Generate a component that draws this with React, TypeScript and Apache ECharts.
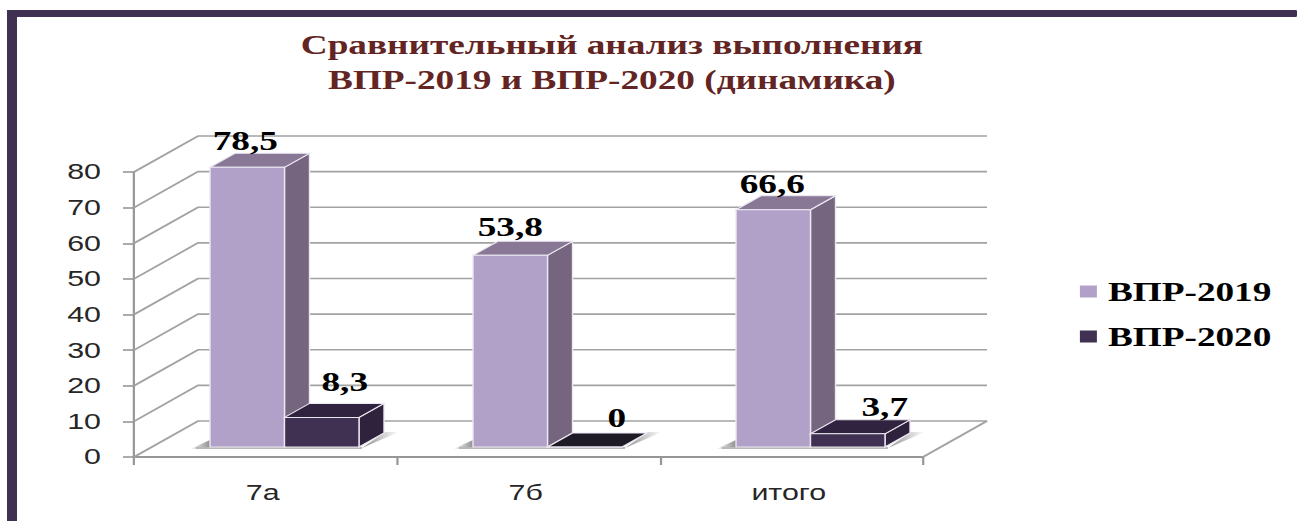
import React, { useEffect, useRef } from "react";
import * as echarts from "echarts";

const titleText = "Сравнительный анализ выполнения\nВПР-2019 и ВПР-2020 (динамика)";
const categories = ["7а", "7б", "итого"];
const seriesNames = ["ВПР-2019", "ВПР-2020"];
const values2019 = [78.5, 53.8, 66.6];
const values2020 = [8.3, 0, 3.7];
const yTicks = [0, 10, 20, 30, 40, 50, 60, 70, 80];

// The source picture is stretched sideways, so the chart is laid out narrow and widened as a whole.
const K = 1.38;
const sx = (v: number) => v / K;
const DEPTH_X = sx(25);
const DEPTH_Y = 14;
const WALL_X = sx(64);
const WALL_Y = 36;
const FLOOR_LIFT = 10;
const BAR_W = sx(74.5);
const GROUP_SHIFT = sx(19);
const GRID_COLOR = "#a2a2a2";
const EDGE = "#ece8f2";
const SERIF = '"Liberation Serif", serif';
const SANS = '"Liberation Sans", sans-serif';

const palettes = [
  { front: "#b1a0c7", side: "#75657f", top: "#897796" },
  { front: "#403152", side: "#2f223d", top: "#30233f" },
];
const labelShifts = [
  [[-2, -26], [0, -28], [-1, -26]],
  [[23, -36], [32, -29], [37, -27]],
];

function face(points: number[][], fill: string, z2 = 0) {
  return {
    type: "polygon",
    z2,
    shape: { points },
    style: { fill, stroke: EDGE, lineWidth: 1 },
  };
}

function barRenderer(seriesIndex: number) {
  return (_params: any, api: any) => {
    const cat = api.value(0);
    const v = api.value(1);
    const [cx, rawTop] = api.coord([cat, v]);
    const [, rawBase] = api.coord([cat, 0]);
    const top = rawTop - FLOOR_LIFT;
    const base = rawBase - FLOOR_LIFT;
    const left = cx + GROUP_SHIFT - (seriesIndex === 0 ? BAR_W : 0);
    const right = left + BAR_W;
    const pal = palettes[seriesIndex];
    const children: any[] = [];
    if (seriesIndex === 0) {
      const l0 = cx + GROUP_SHIFT - BAR_W;
      const r0 = cx + GROUP_SHIFT + BAR_W;
      children.push({
        type: "polygon",
        shape: {
          points: [
            [l0 - sx(20), base + 2],
            [l0, base - 7],
            [l0, base + 2],
          ],
        },
        style: {
          fill: {
            type: "linear", x: 0, y: 0, x2: 1, y2: 0,
            colorStops: [{ offset: 0, color: "#ffffff" }, { offset: 1, color: "#8f8f8f" }],
          },
        },
      });
      children.push({
        type: "rect",
        shape: { x: l0 - sx(14), y: base, width: r0 - l0 + sx(17), height: 2 },
        style: { fill: "#b8b8b8" },
      });
      children.push({
        type: "polygon",
        shape: {
          points: [
            [r0 + sx(3), base + 1],
            [r0 + sx(26), base - 15],
            [r0 + sx(40), base - 15],
          ],
        },
        style: {
          fill: {
            type: "linear", x: 0, y: 0, x2: 1, y2: 0,
            colorStops: [{ offset: 0, color: "#8f8f8f" }, { offset: 1, color: "#ffffff" }],
          },
        },
      });
    }
    children.push(
      face([[right, base], [right + DEPTH_X, base - DEPTH_Y], [right + DEPTH_X, top - DEPTH_Y], [right, top]], pal.side),
      face([[left, top], [right, top], [right + DEPTH_X, top - DEPTH_Y], [left + DEPTH_X, top - DEPTH_Y]], v === 0 ? "#1e1a26" : pal.top),
      face([[left, base], [right, base], [right, top], [left, top]], pal.front),
    );
    const [dx, dy] = labelShifts[seriesIndex][cat];
    children.push({
      type: "text",
      z2: 10,
      style: {
        text: String(v).replace(".", ","),
        x: (left + right) / 2 + sx(dx),
        y: top + dy,
        align: "center",
        verticalAlign: "middle",
        font: `bold 27px ${SERIF}`,
        fill: "#000000",
      },
    });
    return { type: "group", children };
  };
}

function wallRenderer(params: any, api: any) {
  const v = api.value(1);
  const [, y] = api.coord([0, v]);
  const x0 = params.coordSys.x;
  const x1 = x0 + params.coordSys.width;
  const lineStyle = { stroke: GRID_COLOR, lineWidth: 1.6, fill: "none" };
  const children: any[] = [
    {
      type: "polyline",
      shape: { points: [[x0, y], [x0 + WALL_X, y - WALL_Y], [x1 + WALL_X, y - WALL_Y]] },
      style: lineStyle,
    },
  ];
  if (v === 0) {
    children.push({
      type: "line",
      shape: { x1, y1: y, x2: x1 + WALL_X, y2: y - WALL_Y },
      style: lineStyle,
    });
  }
  return { type: "group", children };
}

export default function App() {
  const ref = useRef<HTMLDivElement>(null);
  useEffect(() => {
    const chart = echarts.init(ref.current!, null, { renderer: "svg" });
    chart.setOption({
      animation: false,
      backgroundColor: "#ffffff",
      title: {
        text: titleText,
        left: sx(605),
        top: 22,
        textAlign: "center",
        textStyle: {
          fontFamily: SERIF,
          fontWeight: "bold",
          fontSize: 27,
          lineHeight: 35,
          color: "#632523",
        },
      },
      graphic: [
        { type: "rect", silent: true, shape: { x: sx(7), y: 10, width: sx(1290), height: 7, r: 1 }, style: { fill: "#403152" } },
        { type: "rect", silent: true, shape: { x: sx(7), y: 10, width: sx(10), height: 511 }, style: { fill: "#403152" } },
      ],
      legend: {
        data: seriesNames,
        orient: "vertical",
        left: sx(1073),
        top: 273,
        itemGap: 18,
        itemWidth: sx(17),
        itemHeight: 12,
        icon: "rect",
        selectedMode: false,
        textStyle: { fontFamily: SERIF, fontWeight: "bold", fontSize: 27, color: "#000000", padding: [0, 0, 0, 3] },
      },
      grid: { left: sx(134), top: 172, width: sx(789), height: 285, containLabel: false },
      xAxis: {
        type: "category",
        data: categories,
        axisLine: { lineStyle: { color: "#969696", width: 2 } },
        axisTick: { show: true, length: 8, lineStyle: { color: "#969696", width: 1.6 } },
        axisLabel: { fontFamily: SANS, fontSize: 22, color: "#262626", margin: 25, padding: [0, 4, 0, 0] },
        splitLine: { show: false },
      },
      yAxis: {
        type: "value",
        min: 0,
        max: 80,
        interval: 10,
        axisLine: { show: true, lineStyle: { color: "#969696", width: 1.6 } },
        axisTick: { show: true, length: sx(11), lineStyle: { color: "#969696", width: 1.6 } },
        axisLabel: { fontFamily: SANS, fontSize: 22, color: "#262626", margin: sx(33), padding: [3, 0, 0, 0] },
        splitLine: { show: false },
      },
      series: [
        {
          type: "custom",
          name: "wall",
          z: 1,
          silent: true,
          clip: false,
          encode: { x: 0, y: 1 },
          data: yTicks.map((t) => [0, t]),
          renderItem: wallRenderer,
        },
        ...[values2019, values2020].map((vals, s) => ({
          type: "custom",
          name: seriesNames[s],
          z: 3 + s,
          clip: false,
          itemStyle: { color: palettes[s].front },
          encode: { x: 0, y: 1 },
          data: vals.map((v, i) => [i, v]),
          renderItem: barRenderer(s),
        })),
      ],
    });
    return () => chart.dispose();
  }, []);
  return (
    <div
      ref={ref}
      style={{
        position: "absolute",
        left: 0,
        top: 0,
        width: 1297 / K,
        height: 521,
        transform: `scaleX(${K})`,
        transformOrigin: "0 0",
      }}
    />
  );
}
